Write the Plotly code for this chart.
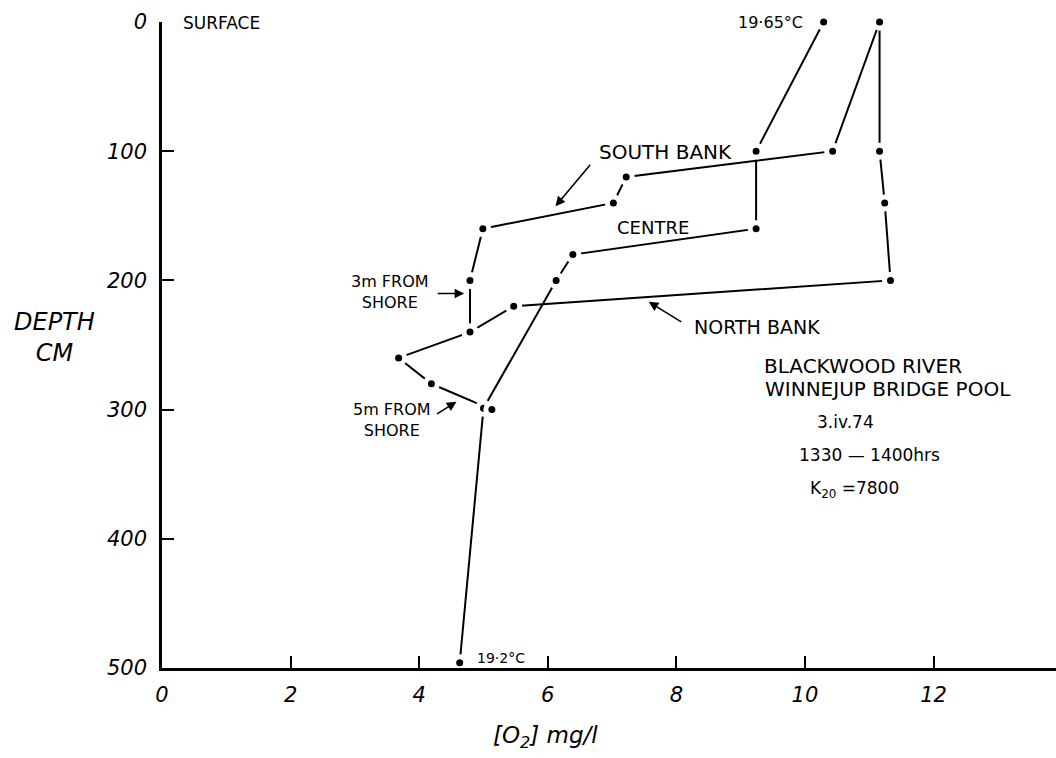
import plotly.graph_objects as go

# ---- data ----
south_o2 = [11.16, 10.43, 7.22, 7.02, 4.99, 4.79, 4.79]
south_depth = [0, 100, 120, 140, 160, 200, 240]

centre_o2 = [10.29, 9.24, 9.24, 6.39, 6.13, 5.00, 4.63]
centre_depth = [0, 100, 160, 180, 200, 299, 496]

north_o2 = [11.16, 11.16, 11.24, 11.33, 5.47, 4.79, 3.68, 4.19, 5.13]
north_depth = [0, 100, 140, 200, 220, 240, 260, 280, 300]

x_ticks = [0, 2, 4, 6, 8, 10, 12]
y_ticks = [0, 100, 200, 300, 400, 500]

LABEL_FONT = dict(family="DejaVu Sans", size=17, color="black")
ITAL_FONT = dict(family="DejaVu Sans", size=23, color="black", style="italic")

fig = go.Figure()

series = [(south_o2, south_depth), (centre_o2, centre_depth), (north_o2, north_depth)]
# lines first
for xs, ys in series:
    fig.add_trace(go.Scatter(x=xs, y=ys, mode="lines",
                             line=dict(color="black", width=2),
                             showlegend=False, hoverinfo="skip", cliponaxis=False))
# then dots with a white halo (gap between line and dot like the drawing)
for xs, ys in series:
    fig.add_trace(go.Scatter(x=xs, y=ys, mode="markers",
                             marker=dict(color="black", size=12,
                                         line=dict(color="white", width=5)),
                             showlegend=False, cliponaxis=False))

ann = []
def txt(x, y, t, size=17, xanchor="left", **kw):
    f = dict(LABEL_FONT)
    f["size"] = size
    ann.append(dict(x=x, y=y, xref="x", yref="y", text=t, showarrow=False,
                    xanchor=xanchor, yanchor="middle", font=f, **kw))

txt(0.29, 1, "SURFACE", size=17)
txt(10.0, 0, "19·65°C", size=16, xanchor="right")
txt(6.77, 101, "SOUTH BANK", size=20)
txt(7.04, 159.3, "CENTRE", size=18)
txt(8.25, 235.7, "NORTH BANK", size=19)
txt(3.55, 209, "3m FROM<br>SHORE", size=16, xanchor="center", align="center")
txt(3.57, 308.4, "5m FROM<br>SHORE", size=16, xanchor="center", align="center")
txt(4.87, 491.9, "19·2°C", size=14)
txt(9.33, 266.4, "BLACKWOOD RIVER", size=20)
txt(9.34, 283.7, "WINNEJUP BRIDGE POOL", size=20)
txt(10.16, 309.8, "3.iv.74", size=17)
txt(9.88, 335.5, "1330 — 1400hrs", size=17)
txt(10.05, 361.8, "K<sub>20</sub> =7800", size=17)

# arrows (head in data coords, tail as pixel offset)
for hx, hy, axp, ayp in [(6.12, 142.6, 36, -43),
                         (4.70, 210.1, -28, 0),
                         (4.58, 294.0, -21, 13),
                         (7.57, 216.6, 34, 21)]:
    ann.append(dict(x=hx, y=hy, xref="x", yref="y", ax=axp, ay=ayp, text="",
                    showarrow=True, arrowhead=2, arrowsize=1.2, arrowwidth=1.6,
                    arrowcolor="black"))

# axis titles
ann.append(dict(x=5.96, y=-0.107, xref="x", yref="paper", text="[O<sub>2</sub>] mg/l",
                showarrow=False, xanchor="center", yanchor="middle", font=ITAL_FONT))
ann.append(dict(x=-0.1208, y=0.512, xref="paper", yref="paper", text="DEPTH<br>CM",
                showarrow=False, xanchor="center", yanchor="middle", align="center",
                font=dict(ITAL_FONT, size=24)))

fig.update_layout(
    width=1056, height=758,
    margin=dict(l=162, r=0, t=22, b=90),
    paper_bgcolor="white", plot_bgcolor="white",
    annotations=ann,
    showlegend=False,
)
fig.update_xaxes(range=[0, 13.904], tickvals=x_ticks, ticktext=[str(v) for v in x_ticks],
                 showgrid=False, zeroline=False, showline=True, linecolor="black",
                 linewidth=2.5, ticks="inside", ticklen=12, tickwidth=2,
                 tickcolor="black", tickfont=dict(family="DejaVu Sans", size=21,
                                                  color="black", style="italic"),
                 ticklabelstandoff=6)
fig.update_yaxes(range=[500, 0], tickvals=y_ticks, ticktext=[str(v) for v in y_ticks],
                 showgrid=False, zeroline=False, showline=True, linecolor="black",
                 linewidth=2.5, ticks="inside", ticklen=12, tickwidth=2,
                 tickcolor="black", tickfont=dict(family="DejaVu Sans", size=21,
                                                  color="black", style="italic"),
                 ticklabelstandoff=8)

fig.write_html("out.html")
